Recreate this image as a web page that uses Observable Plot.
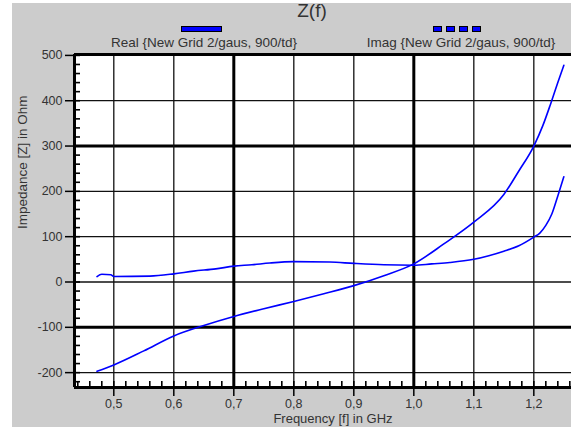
<!DOCTYPE html>
<html><head><meta charset="utf-8">
<script src="https://cdn.jsdelivr.net/npm/d3@7"></script>
<script src="https://cdn.jsdelivr.net/npm/@observablehq/plot@0.6"></script>
<style>
body{margin:0;background:#fff;font-family:"Liberation Sans",Arial,sans-serif;}
#wrap{position:relative;width:571px;height:430px;overflow:hidden;}
#bg{position:absolute;left:12px;top:3px;width:559px;height:424px;background:#cccccc;}
#title{position:absolute;left:162px;top:1px;width:300px;text-align:center;font-size:19px;line-height:19px;color:#333;}
.lab{position:absolute;width:300px;text-align:center;font-size:13.5px;line-height:14px;color:#333;top:36px;}
.sw{position:absolute;top:26px;height:6px;background:#0000ff;border:1px solid #000;box-sizing:border-box;}
#chart{position:absolute;left:0;top:48px;}
</style></head>
<body>
<div id="wrap">
  <div id="bg"></div>
  <div id="title"></div>
  <div class="sw" style="left:181px;width:41px"></div>
  <div class="lab" id="lab1" style="left:54px"></div>
  <div class="sw" style="left:433px;width:9px"></div>
  <div class="sw" style="left:446px;width:9px"></div>
  <div class="sw" style="left:459px;width:9px"></div>
  <div class="sw" style="left:472px;width:9px"></div>
  <div class="lab" id="lab2" style="left:311px"></div>
  <div id="chart"></div>
</div>
<script>
const titleText = "Z(f)";
const seriesNames = ["Real {New Grid 2/gaus, 900/td}", "Imag {New Grid 2/gaus, 900/td}"];
const xTitle = "Frequency [f] in GHz";
const yTitle = "Impedance [Z] in Ohm";

const realFreq = [0.472,0.48,0.495,0.5,0.56,0.6,0.633,0.67,0.7,0.73,0.76,0.8,0.86,0.9,0.95,1.0,1.03,1.06,1.1,1.125,1.15,1.175,1.2,1.21,1.22,1.23,1.24,1.25];
const realZ    = [12,17,16,12,13,18,24,29,35,38,42,45,44,41,38,37,40,43,50,58,68,80,99,108,125,150,190,232];

const imagFreq = [0.472,0.5,0.55,0.6,0.65,0.7,0.75,0.8,0.85,0.9,0.95,1.0,1.05,1.1,1.15,1.175,1.2,1.215,1.228,1.24,1.25];
const imagZ    = [-197,-183,-152,-119,-96,-76,-59,-43,-26,-8,14,40,84,132,193,245,300,345,393,440,478];

const xTicks = [0.5,0.6,0.7,0.8,0.9,1.0,1.1,1.2];
const xGridBold = [0.7,1.0];
const xMinor = d3.range(0.44,1.27,0.02).map(v=>+v.toFixed(2));
const yTicks = [-200,-100,0,100,200,300,400,500];
const yGridBold = [-100,300];
const yMinor = d3.range(-220,501,20);

const xDomain = [0.4345, 1.2628];
const yDomain = [-232.8, 502];

document.getElementById("title").textContent = titleText;
document.getElementById("lab1").textContent = seriesNames[0];
document.getElementById("lab2").textContent = seriesNames[1];

const real = realFreq.map((f,i)=>({f, z: realZ[i]}));
const imag = imagFreq.map((f,i)=>({f, z: imagZ[i]}));

const chart = Plot.plot({
  width: 571, height: 382,
  marginTop: 6, marginBottom: 43, marginLeft: 74, marginRight: 0,
  style: {background: "transparent", fontFamily: "Liberation Sans, Arial, sans-serif", fontSize: "12.5px", color: "#333"},
  x: {domain: xDomain},
  y: {domain: yDomain},
  marks: [
    Plot.frame({fill: "white", stroke: null}),
    Plot.ruleY(yTicks, {stroke: "#111", strokeWidth: 1.3}),
    Plot.ruleY(yGridBold, {stroke: "#000", strokeWidth: 3}),
    Plot.ruleX(xTicks, {stroke: "#111", strokeWidth: 1.3}),
    Plot.ruleX(xGridBold, {stroke: "#000", strokeWidth: 3}),
    Plot.tickY(yMinor, {y: d=>d, insetRight: 491, stroke: "#000", strokeWidth: 1.6}),
    Plot.tickX(xMinor, {x: d=>d, insetTop: 327, stroke: "#000", strokeWidth: 1.6}),
    Plot.line(real, {x: "f", y: "z", stroke: "#0000ff", strokeWidth: 1.6, curve: "monotone-x"}),
    Plot.line(imag, {x: "f", y: "z", stroke: "#0000ff", strokeWidth: 1.6, curve: "monotone-x"}),
    Plot.ruleX([xDomain[0]], {stroke: "#000", strokeWidth: 3}),
    Plot.ruleY([yDomain[0]], {stroke: "#000", strokeWidth: 3}),
    Plot.ruleY([yDomain[1]], {stroke: "#000", strokeWidth: 3}),
    Plot.axisY(yTicks, {tickSize: 9, tickPadding: 3, label: null, tickFormat: d => String(d), stroke: "#000", strokeWidth: 1.5, fill: "#333"}),
    Plot.axisX(xTicks, {tickSize: 9, tickPadding: 3, label: null, tickFormat: d => d.toFixed(1).replace(".", ","), stroke: "#000", strokeWidth: 1.5, fill: "#333"}),
    Plot.text([xTitle], {frameAnchor: "bottom", dy: 35, dx: 10, text: d => d, fill: "#333", fontSize: 13}),
    Plot.text([yTitle], {frameAnchor: "left", rotate: -90, dx: -52, dy: 8, text: d => d, fill: "#333", fontSize: 13.5})
  ]
});
document.getElementById("chart").appendChild(chart);
</script>
</body></html>
